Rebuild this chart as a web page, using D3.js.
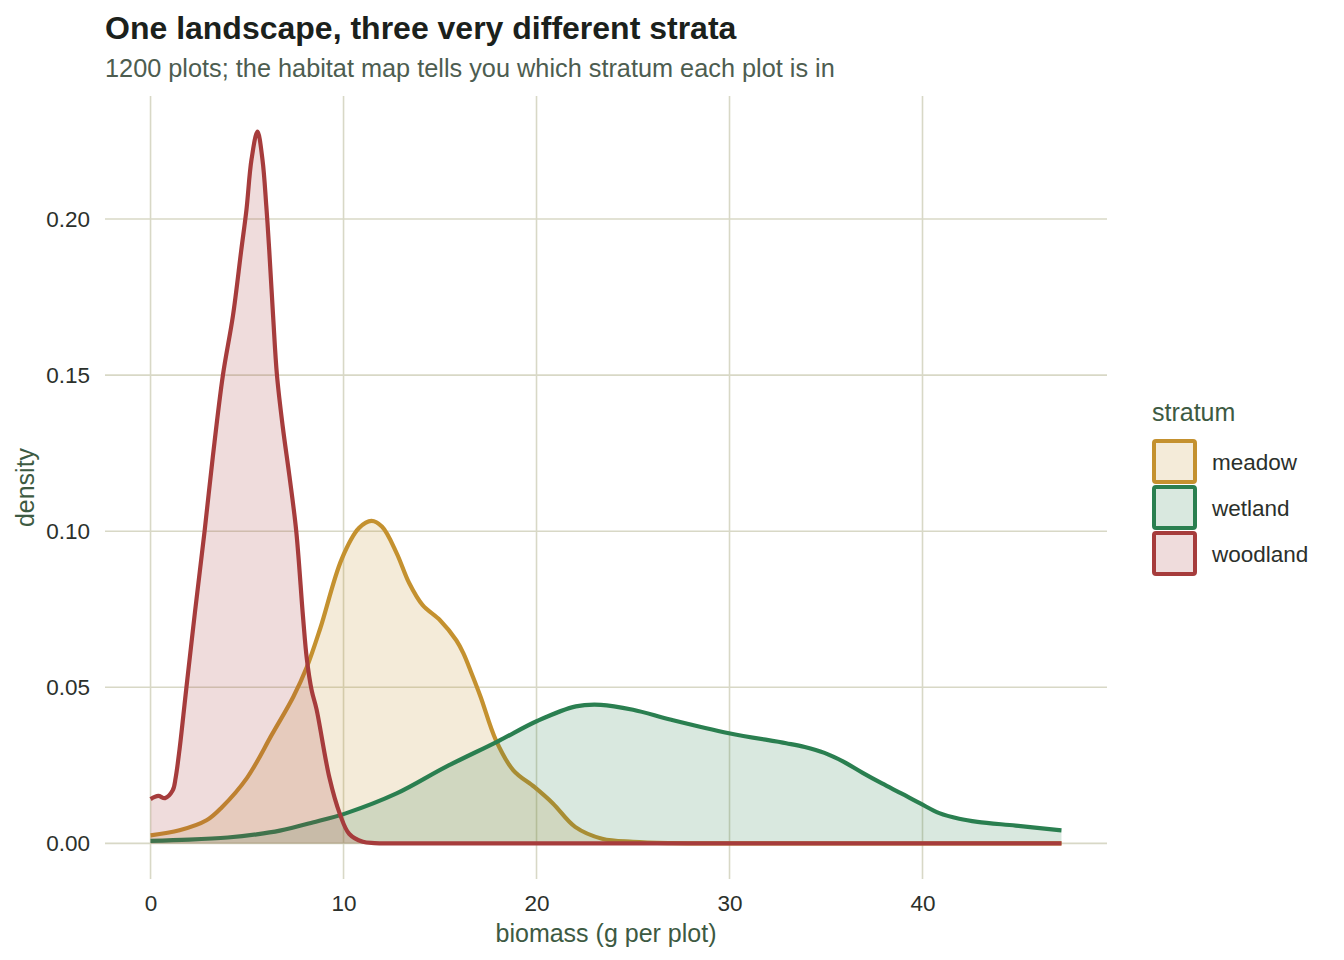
<!DOCTYPE html>
<html>
<head>
<meta charset="utf-8">
<script src="https://cdn.jsdelivr.net/npm/d3@7"></script>
<style>
  body { margin: 0; background: #fff; }
  svg text { font-family: "Liberation Sans", Arial, Helvetica, sans-serif; }
</style>
</head>
<body>
<div id="chart"></div>
<script>
// density curves (biomass in g per plot, density)
var strata = ["meadow", "wetland", "woodland"];
var strokeColors = ["#c4912f", "#2a7f50", "#a63c3c"];

var meadowX = [0, 1.5, 2.9, 3.7, 5.0, 6.3, 7.4, 8.1, 8.8, 9.9, 10.8, 11.45, 12.0, 12.75, 13.4, 14.1, 15.0, 15.85,
  16.2, 16.6, 17.1, 17.9, 18.8, 19.9, 20.85, 22.0, 23.4, 25.0, 27.0, 30.0, 47.2];
var meadowY = [0.0026, 0.0042, 0.0074, 0.0116, 0.021, 0.035, 0.047, 0.0565, 0.069, 0.091, 0.101, 0.1033, 0.1014, 0.093,
  0.0834, 0.0763, 0.0715, 0.065, 0.061, 0.055, 0.047, 0.033, 0.0234, 0.018, 0.0128, 0.0053, 0.0015, 0.0005, 0.0001, 0, 0];

var wetlandX = [0, 2, 4, 5.5, 6.7, 8.4, 10.15, 12.75, 15.3, 18.0, 20.06, 22.04, 23.33, 25.0, 26.98, 29.97, 32.94, 33.9,
  34.92, 35.9, 36.9, 37.9, 38.9, 39.88, 40.87, 41.9, 42.85, 44.83, 47.2];
var wetlandY = [0.0008, 0.0012, 0.0019, 0.0029, 0.0041, 0.0067, 0.0097, 0.016, 0.0245, 0.0327, 0.0393, 0.0439, 0.0444,
  0.0428, 0.0396, 0.0353, 0.0321, 0.0309, 0.029, 0.0262, 0.0226, 0.0192, 0.016, 0.0128, 0.0097, 0.0079, 0.0069, 0.0057,
  0.0042];

var woodlandX = [0, 0.4, 0.75, 1.15, 1.3, 1.5, 1.7, 1.86, 2.3, 2.8, 3.23, 3.75, 4.27, 4.7, 4.97, 5.23, 5.54, 5.8, 6.0,
  6.15, 6.35, 6.55, 6.85, 7.2, 7.55, 7.9, 8.1, 8.35, 8.6, 9.27, 9.8, 10.3, 11.0, 11.6, 12.5, 16.0, 47.2];
var woodlandY = [0.0142, 0.0152, 0.0145, 0.017, 0.021, 0.030, 0.041, 0.05, 0.074, 0.100, 0.124, 0.150, 0.169, 0.190,
  0.203, 0.219, 0.228, 0.219, 0.204, 0.190, 0.169, 0.150, 0.1335, 0.1175, 0.100, 0.0726, 0.059, 0.049, 0.043, 0.021,
  0.0096, 0.003, 0.0005, 0.0001, 0, 0, 0];

var xTicks = [0, 10, 20, 30, 40];
var yTicks = [0, 0.05, 0.10, 0.15, 0.20];

var width = 1344, height = 960;
var panel = {left: 105, right: 1107, top: 96, bottom: 879};

var series = [
  {name: strata[0], color: strokeColors[0], xs: meadowX, ys: meadowY},
  {name: strata[1], color: strokeColors[1], xs: wetlandX, ys: wetlandY},
  {name: strata[2], color: strokeColors[2], xs: woodlandX, ys: woodlandY}
];
series.forEach(function(s){
  s.values = s.xs.map(function(x, i){ return {x: x, y: s.ys[i]}; });
});

var svg = d3.select("#chart").append("svg")
  .attr("width", width).attr("height", height);

// ggplot style 5% expansion on both axes
var xMax = d3.max(series, function(s){ return d3.max(s.xs); });
var yMax = d3.max(series, function(s){ return d3.max(s.ys); });
var x = d3.scaleLinear().domain([-0.05 * xMax, 1.05 * xMax]).range([panel.left, panel.right]);
var y = d3.scaleLinear().domain([-0.05 * yMax, 1.05 * yMax]).range([panel.bottom, panel.top]);

var gridColor = "#d8d8c6";

// grid
svg.append("g").selectAll("line.h").data(yTicks).enter().append("line")
  .attr("x1", panel.left).attr("x2", panel.right)
  .attr("y1", function(d){ return y(d); }).attr("y2", function(d){ return y(d); })
  .style("stroke", gridColor).style("stroke-width", 1.6);
svg.append("g").selectAll("line.v").data(xTicks).enter().append("line")
  .attr("y1", panel.top).attr("y2", panel.bottom)
  .attr("x1", function(d){ return x(d); }).attr("x2", function(d){ return x(d); })
  .style("stroke", gridColor).style("stroke-width", 1.6);

// axes (text only, no domain line)
var xAxis = svg.append("g")
  .attr("transform", "translate(0," + panel.bottom + ")")
  .call(d3.axisBottom(x).tickValues(xTicks).tickSize(0).tickPadding(16).tickFormat(d3.format("d")));
var yAxis = svg.append("g")
  .attr("transform", "translate(" + panel.left + ",0)")
  .call(d3.axisLeft(y).tickValues(yTicks).tickSize(0).tickPadding(15).tickFormat(d3.format(".2f")));
[xAxis, yAxis].forEach(function(a){
  a.select(".domain").remove();
  a.selectAll("text").style("font-size", "22.5px").style("fill", "#2b302b")
    .style("font-family", "'Liberation Sans', Arial, sans-serif");
});

// densities: fill then outline, group by group
var curve = d3.curveCatmullRom.alpha(0.5);
var area = d3.area().curve(curve)
  .x(function(d){ return x(d.x); }).y0(y(0)).y1(function(d){ return y(d.y); });
var line = d3.line().curve(curve)
  .x(function(d){ return x(d.x); }).y(function(d){ return y(d.y); });

series.forEach(function(s){
  var g = svg.append("g");
  g.append("path").datum(s.values).attr("d", area)
    .style("fill", s.color).style("fill-opacity", 0.18).style("stroke", "none");
  g.append("path").datum(s.values).attr("d", line)
    .style("fill", "none").style("stroke", s.color).style("stroke-width", 4.2)
    .style("stroke-linejoin", "round");
});

// titles
svg.append("text").attr("x", 105).attr("y", 39)
  .style("font-size", "32px").style("font-weight", "bold").style("fill", "#1b211c")
  .text("One landscape, three very different strata");
svg.append("text").attr("x", 105).attr("y", 77)
  .style("font-size", "25.3px").style("fill", "#4d5d50")
  .text("1200 plots; the habitat map tells you which stratum each plot is in");

svg.append("text").attr("x", (panel.left + panel.right) / 2).attr("y", 942)
  .style("text-anchor", "middle").style("font-size", "25px").style("fill", "#3d5a42")
  .text("biomass (g per plot)");
svg.append("text")
  .attr("transform", "translate(34," + ((panel.top + panel.bottom) / 2) + ") rotate(-90)")
  .style("text-anchor", "middle").style("font-size", "25px").style("fill", "#3d5a42")
  .text("density");

// legend
var legend = svg.append("g").attr("transform", "translate(1152,0)");
legend.append("text").attr("x", 0).attr("y", 421)
  .style("font-size", "25px").style("fill", "#3d5a42").text("stratum");
var keys = legend.selectAll("g.key").data(series).enter().append("g")
  .attr("transform", function(d, i){ return "translate(0," + (440 + i * 46) + ")"; });
keys.append("rect").attr("x", 2).attr("y", 1).attr("width", 41).attr("height", 41).attr("rx", 2)
  .style("fill", "#fff").style("stroke", "none");
keys.append("rect").attr("x", 2).attr("y", 1).attr("width", 41).attr("height", 41).attr("rx", 2)
  .style("fill", function(d){ return d.color; }).style("fill-opacity", 0.18)
  .style("stroke", function(d){ return d.color; }).style("stroke-width", 4);
keys.append("text").attr("x", 60).attr("y", 22).attr("dy", "0.35em")
  .style("font-size", "22.5px").style("fill", "#2b302b")
  .text(function(d){ return d.name; });
</script>
</body>
</html>
